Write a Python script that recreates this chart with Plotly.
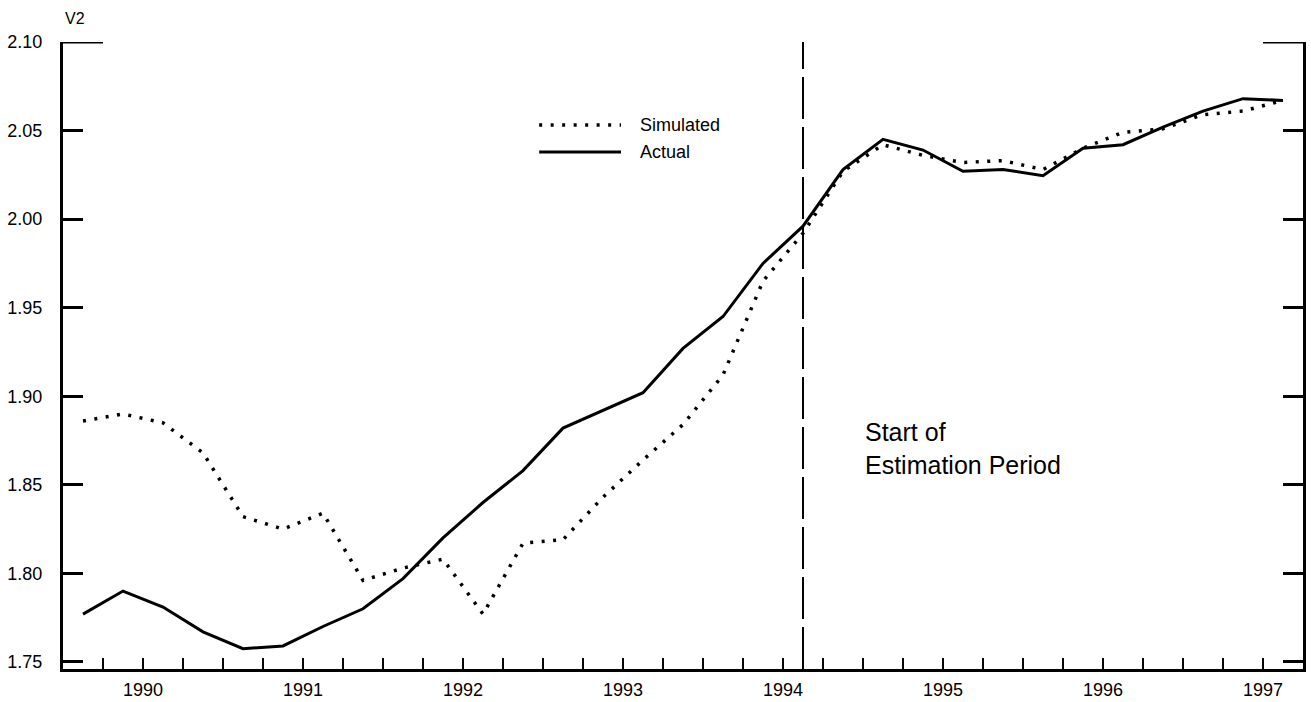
import plotly.graph_objects as go

# ---------------- data (quarterly, 1990Q1 .. 1997Q3) ----------------
quarters = [1990.125 + 0.25 * i for i in range(31)]
actual = [1.777, 1.790, 1.781, 1.767, 1.7575, 1.759, 1.770, 1.780, 1.797, 1.820,
          1.840, 1.858, 1.882, 1.892, 1.902, 1.927, 1.945, 1.975, 1.996, 2.028,
          2.045, 2.039, 2.027, 2.028, 2.0245, 2.040, 2.042, 2.052, 2.061, 2.068, 2.067]
simulated = [1.886, 1.890, 1.885, 1.868, 1.832, 1.825, 1.834, 1.796, 1.803, 1.808,
             1.777, 1.817, 1.819, 1.843, 1.864, 1.884, 1.912, 1.965, 1.992, 2.027,
             2.042, 2.036, 2.032, 2.033, 2.028, 2.040, 2.049, 2.051, 2.059, 2.061, 2.067]
year_labels = ["1990", "1991", "1992", "1993", "1994", "1995", "1996", "1997"]
year_label_pos = [1990.5, 1991.5, 1992.5, 1993.5, 1994.5, 1995.5, 1996.5, 1997.5]
year_bounds = [1991, 1992, 1993, 1994, 1995, 1996, 1997]
y_ticks = [1.75, 1.80, 1.85, 1.90, 1.95, 2.00, 2.05, 2.10]
est_start = 1994.625
x_range = [1990.0, 1997.75]
y_range = [1.746, 2.10]

FONT = "Liberation Sans, Arial, Helvetica, sans-serif"

fig = go.Figure()
fig.add_trace(go.Scatter(x=quarters, y=simulated, mode="lines", name="Simulated",
                         line=dict(color="black", width=3.5, dash="3px,8.5px"),
                         showlegend=False))
fig.add_trace(go.Scatter(x=quarters, y=actual, mode="lines", name="Actual",
                         line=dict(color="black", width=3),
                         showlegend=False))

# start of estimation period line
fig.add_shape(type="line", xref="x", yref="y domain", x0=est_start, x1=est_start,
              y0=0, y1=1, line=dict(color="black", width=2, dash="42px,8px"))

# longer top ticks at 2.10 (left and right)
fig.add_shape(type="line", xref="x", yref="y", xsizemode="pixel", xanchor=x_range[0],
              x0=0, x1=40, y0=y_ticks[-1], y1=y_ticks[-1], line=dict(color="black", width=3))
fig.add_shape(type="line", xref="x", yref="y", xsizemode="pixel", xanchor=x_range[1],
              x0=-40, x1=0, y0=y_ticks[-1], y1=y_ticks[-1], line=dict(color="black", width=3))

# legend drawn manually (long line samples)
leg_items = [("Simulated", dict(color="black", width=3.5, dash="3px,8.5px"), 0.8676),
             ("Actual", dict(color="black", width=3), 0.8246)]
for name, ln, yp in leg_items:
    fig.add_shape(type="line", xref="paper", yref="paper", x0=0.384, x1=0.450,
                  y0=yp, y1=yp, line=ln)
    fig.add_annotation(text=name, xref="paper", yref="paper", x=0.464, y=yp,
                       xanchor="left", yanchor="middle", showarrow=False,
                       font=dict(family=FONT, size=18, color="black"))

fig.add_annotation(text="Start of<br>Estimation Period", xref="x", yref="y",
                   x=1995.0, y=1.8705, xanchor="left", yanchor="middle", align="left",
                   showarrow=False, font=dict(family=FONT, size=25, color="black"))

fig.add_annotation(text="V2", xref="paper", yref="paper", x=0, y=1.037,
                   xanchor="left", yanchor="middle", showarrow=False,
                   font=dict(family=FONT, size=16, color="black"))

fig.update_layout(
    template="none",
    width=1311, height=702,
    margin=dict(l=63, r=8, t=42, b=33, autoexpand=False),
    paper_bgcolor="white", plot_bgcolor="white",
    font=dict(family=FONT, size=18, color="black"),
    showlegend=False,
    xaxis=dict(range=x_range, showgrid=False, zeroline=False, automargin=False,
               showline=True, linecolor="black", linewidth=3, mirror=False,
               tickmode="array", tickvals=year_label_pos, ticktext=year_labels,
               ticks="inside", ticklen=11, tickwidth=2, tickcolor="black",
               ticklabelstandoff=2,
               minor=dict(ticks="inside", ticklen=11, tickwidth=2, tickcolor="black",
                          dtick=0.25, tick0=1990.0, showgrid=False)),
    xaxis2=dict(range=x_range, overlaying="x", anchor="y", side="bottom",
                showgrid=False, zeroline=False, showline=False, automargin=False,
                tickmode="array", tickvals=year_bounds, showticklabels=False,
                ticks="inside", ticklen=19, tickwidth=3.5, tickcolor="black"),
    yaxis=dict(range=y_range, showgrid=False, zeroline=False, automargin=False,
               showline=True, linecolor="black", linewidth=3, mirror="ticks",
               tickmode="array", tickvals=y_ticks, tickformat=".2f",
               ticks="inside", ticklen=20, tickwidth=3, tickcolor="black",
               ticklabelstandoff=14),
)

fig.write_html("out.html")
